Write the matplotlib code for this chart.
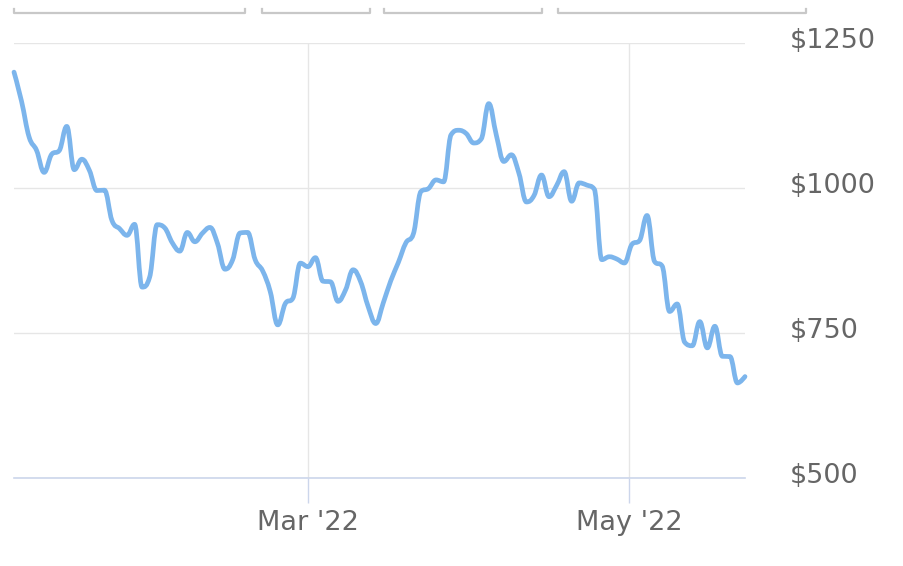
#!/usr/bin/env python
# TSLA daily close, Jan - May 2022, drawn like a Highcharts stock panel
# (ordinal x axis: trading days are evenly spaced, spline line)
import numpy as np
import matplotlib
matplotlib.use('Agg')
import matplotlib.pyplot as plt
import matplotlib.transforms as mtransforms
from matplotlib.lines import Line2D
from matplotlib.path import Path
from matplotlib.patches import PathPatch

# trading days and closing prices
dates = np.array([
    '2022-01-03', '2022-01-04', '2022-01-05', '2022-01-06', '2022-01-07',
    '2022-01-10', '2022-01-11', '2022-01-12', '2022-01-13', '2022-01-14',
    '2022-01-18', '2022-01-19', '2022-01-20', '2022-01-21',
    '2022-01-24', '2022-01-25', '2022-01-26', '2022-01-27', '2022-01-28',
    '2022-01-31', '2022-02-01', '2022-02-02', '2022-02-03', '2022-02-04',
    '2022-02-07', '2022-02-08', '2022-02-09', '2022-02-10', '2022-02-11',
    '2022-02-14', '2022-02-15', '2022-02-16', '2022-02-17', '2022-02-18',
    '2022-02-22', '2022-02-23', '2022-02-24', '2022-02-25',
    '2022-02-28', '2022-03-01', '2022-03-02', '2022-03-03', '2022-03-04',
    '2022-03-07', '2022-03-08', '2022-03-09', '2022-03-10', '2022-03-11',
    '2022-03-14', '2022-03-15', '2022-03-16', '2022-03-17', '2022-03-18',
    '2022-03-21', '2022-03-22', '2022-03-23', '2022-03-24', '2022-03-25',
    '2022-03-28', '2022-03-29', '2022-03-30', '2022-03-31', '2022-04-01',
    '2022-04-04', '2022-04-05', '2022-04-06', '2022-04-07', '2022-04-08',
    '2022-04-11', '2022-04-12', '2022-04-13', '2022-04-14',
    '2022-04-18', '2022-04-19', '2022-04-20', '2022-04-21', '2022-04-22',
    '2022-04-25', '2022-04-26', '2022-04-27', '2022-04-28', '2022-04-29',
    '2022-05-02', '2022-05-03', '2022-05-04', '2022-05-05', '2022-05-06',
    '2022-05-09', '2022-05-10', '2022-05-11', '2022-05-12', '2022-05-13',
    '2022-05-16', '2022-05-17', '2022-05-18', '2022-05-19', '2022-05-20',
    '2022-05-23',
], dtype='datetime64[D]')

close = [
    1199.78, 1149.59, 1088.12, 1064.70, 1026.96,
    1058.12, 1064.40, 1106.22, 1031.56, 1049.61,
    1030.51, 995.65, 996.27, 943.90,
    930.00, 918.40, 937.41, 829.10, 846.35,
    936.72, 931.25, 905.66, 891.14, 923.32,
    907.34, 922.00, 932.00, 904.55, 860.00,
    875.76, 922.43, 923.39, 876.35, 856.98,
    821.53, 764.04, 800.77, 809.87,
    870.43, 864.37, 879.89, 839.29, 838.29,
    804.58, 824.40, 858.97, 838.30, 795.35,
    766.37, 801.89, 840.23, 871.60, 905.39,
    921.16, 993.98, 999.11, 1013.92, 1010.64,
    1091.84, 1099.57, 1093.99, 1077.60, 1084.59,
    1145.45, 1091.26, 1045.76, 1057.26, 1025.49,
    975.93, 986.95, 1022.37, 985.00,
    1004.29, 1028.15, 977.20, 1008.78, 1005.05,
    998.02, 876.42, 881.51, 877.51, 870.76,
    902.94, 909.25, 952.62, 873.28, 865.65,
    787.11, 800.04, 734.00, 728.00, 769.59,
    724.37, 761.61, 709.81, 709.42, 663.90,
    674.90,
]

y_ticks = [500, 750, 1000, 1250]
y_labels = ['$500', '$750', '$1000', '$1250']
x_tick_dates = np.array(['2022-03-01', '2022-05-01'], dtype='datetime64[D]')
x_labels = ["Mar '22", "May '22"]

plt.rcParams['font.family'] = ['DejaVu Sans']

W, H = 904, 566
fig = plt.figure(figsize=(W / 100, H / 100), dpi=100)
ax = fig.add_axes([14 / W, 88 / H, (745 - 14) / W, 435 / H])

# ordinal positions, one slot per trading day
pos = np.arange(len(dates), dtype=float)
vals = np.array(close)

ax.set_xlim(pos[0], pos[-1])
ax.set_ylim(500, 1250)


def spline_path(ax, xs, ys, smoothing=1.5):
    # control points like Highcharts' spline series, computed in pixels
    pts = ax.transData.transform(np.column_stack([xs, ys]))
    px, py = pts[:, 0], pts[:, 1]
    denom = smoothing + 1
    n = len(px)
    left = np.zeros((n, 2))
    right = np.zeros((n, 2))
    for i in range(n):
        if i == 0 or i == n - 1:
            left[i] = right[i] = px[i], py[i]
            continue
        lx = (smoothing * px[i] + px[i - 1]) / denom
        ly = (smoothing * py[i] + py[i - 1]) / denom
        rx = (smoothing * px[i] + px[i + 1]) / denom
        ry = (smoothing * py[i] + py[i + 1]) / denom
        if rx != lx:
            corr = (ry - ly) * (rx - px[i]) / (rx - lx) + py[i] - ry
            ly += corr
            ry += corr
        # keep the curve from overshooting its neighbours
        if ly > py[i - 1] and ly > py[i]:
            ly = max(py[i - 1], py[i])
            ry = 2 * py[i] - ly
        elif ly < py[i - 1] and ly < py[i]:
            ly = min(py[i - 1], py[i])
            ry = 2 * py[i] - ly
        if ry > py[i + 1] and ry > py[i]:
            ry = max(py[i + 1], py[i])
            ly = 2 * py[i] - ry
        elif ry < py[i + 1] and ry < py[i]:
            ry = min(py[i + 1], py[i])
            ly = 2 * py[i] - ry
        left[i] = lx, ly
        right[i] = rx, ry
    verts = [(px[0], py[0])]
    codes = [Path.MOVETO]
    for i in range(1, n):
        verts += [tuple(right[i - 1]), tuple(left[i]), (px[i], py[i])]
        codes += [Path.CURVE4] * 3
    verts = ax.transData.inverted().transform(np.array(verts))
    return Path(verts, codes)


line = PathPatch(spline_path(ax, pos, vals), facecolor='none',
                 edgecolor='#7cb5ec', lw=3.4, joinstyle='round',
                 capstyle='round', transform=ax.transData, clip_on=False,
                 zorder=3)
ax.add_patch(line)

# month ticks placed on the ordinal scale by interpolating between trading days
day_num = dates.astype('int64').astype(float)
tick_pos = np.interp(x_tick_dates.astype('int64').astype(float), day_num, pos)

ax.yaxis.tick_right()
ax.set_yticks(y_ticks)
ax.set_yticklabels(y_labels)
ax.set_xticks(tick_pos)
ax.set_xticklabels(x_labels)

for s in ['top', 'left', 'right']:
    ax.spines[s].set_visible(False)
ax.spines['bottom'].set_color('#ccd6eb')
ax.spines['bottom'].set_linewidth(1.2)

ax.tick_params(axis='y', length=0, pad=32, labelsize=19.5, labelcolor='#666666')
ax.tick_params(axis='x', length=18, width=1, color='#ccd6eb', pad=5,
               labelsize=19.5, labelcolor='#666666')
up = mtransforms.ScaledTranslation(0, 5 / 100, fig.dpi_scale_trans)
for lab in ax.get_yticklabels():
    lab.set_horizontalalignment('left')
    lab.set_transform(lab.get_transform() + up)

ax.grid(True, color='#e6e6e6', lw=1)
ax.set_axisbelow(True)

# cropped range selector buttons along the top edge
for x0, x1 in [(14, 245), (262, 370), (384, 542), (558, 806)]:
    xs = np.array([x0, x0, x1, x1]) / W
    ys = (H - np.array([9, 13, 13, 9])) / H
    fig.add_artist(Line2D(xs, ys, color='#c8c8c8', lw=1.6))

fig.savefig('out.png', dpi=100)
